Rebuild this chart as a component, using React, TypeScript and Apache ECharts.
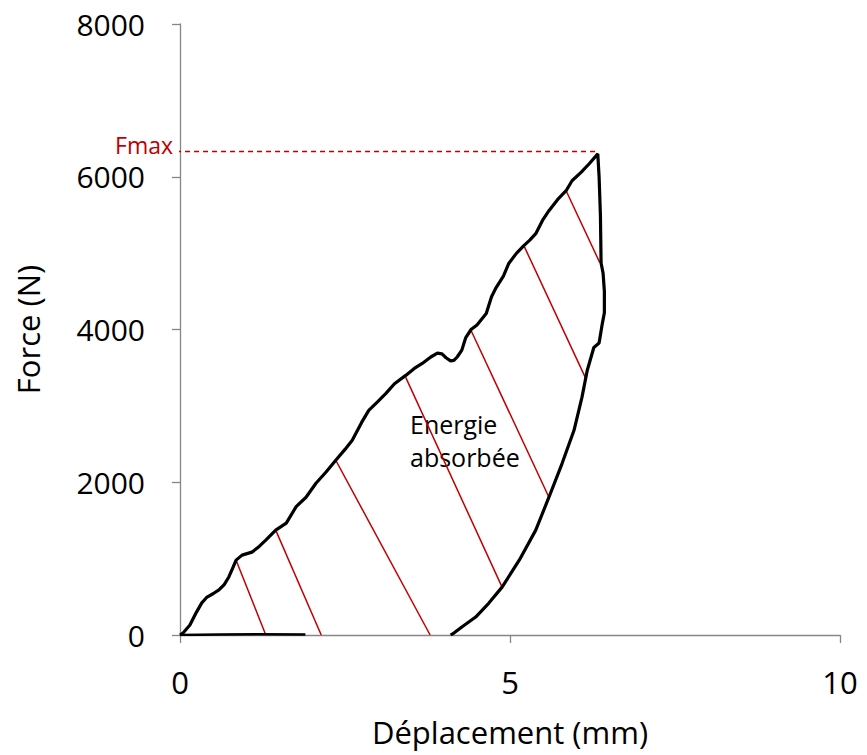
import React, { useEffect, useRef } from "react";
import * as echarts from "echarts";

// Loading branch (displacement mm, force N)
const loadX = [0, 0.05, 0.15, 0.25, 0.33, 0.41, 0.5, 0.59, 0.67, 0.74, 0.8, 0.85, 0.94, 1.09, 1.2, 1.3, 1.45, 1.61, 1.76, 1.91, 2.06, 2.21, 2.36, 2.5, 2.61, 2.75, 2.86, 3.0, 3.12, 3.25, 3.42, 3.55, 3.67, 3.8, 3.9, 3.97, 4.03, 4.1, 4.15, 4.2, 4.27, 4.33, 4.41, 4.5, 4.64, 4.72, 4.79, 4.9, 4.98, 5.1, 5.21, 5.3, 5.39, 5.5, 5.59, 5.72, 5.85, 5.94, 6.08, 6.2, 6.33];
const loadF = [0, 30, 130, 300, 420, 497, 540, 590, 660, 760, 880, 980, 1046, 1085, 1160, 1242, 1373, 1464, 1680, 1804, 1987, 2131, 2288, 2430, 2549, 2780, 2941, 3060, 3163, 3290, 3399, 3490, 3556, 3640, 3690, 3680, 3630, 3590, 3595, 3640, 3730, 3895, 4000, 4060, 4209, 4430, 4549, 4700, 4863, 5000, 5098, 5170, 5255, 5440, 5556, 5700, 5817, 5948, 6060, 6170, 6300];
// Drop after Fmax and unloading branch
const unloadX = [6.35, 6.37, 6.38, 6.41, 6.43, 6.43, 6.4, 6.35, 6.27, 6.17, 6.09, 5.97, 5.79, 5.59, 5.39, 5.14, 4.88, 4.68, 4.48, 4.27, 4.15, 4.1];
const unloadF = [6000, 5500, 4870, 4740, 4500, 4220, 4084, 3822, 3765, 3464, 3111, 2680, 2248, 1804, 1373, 980, 627, 418, 235, 105, 26, 0];
// Curve lying on the baseline
const baseX = [0, 0.6, 1.2, 1.9];
const baseF = [0, 5, 10, 5];
// Red hatching segments (start on loading branch, end on unloading branch/baseline)
const hatchX1 = [0.85, 1.45, 2.36, 3.42, 4.41, 5.21, 5.85];
const hatchF1 = [980, 1373, 2288, 3373, 3987, 5098, 5817];
const hatchX2 = [1.3, 2.14, 3.79, 4.88, 5.59, 6.16, 6.36];
const hatchF2 = [0, 0, 0, 627, 1804, 3338, 4876];
// Fmax reference
const FMAX = 6330;
const FMAX_X_START = -0.06;
const FMAX_X_END = 6.32;

const X_MIN = 0, X_MAX = 10, X_INTERVAL = 5;
const Y_MIN = 0, Y_MAX = 8000, Y_INTERVAL = 2000;

const RED = "#c00000";
const FONT = "'Open Sans', 'Noto Sans', sans-serif";

export default function App() {
  const ref = useRef<HTMLDivElement>(null);
  useEffect(() => {
    if (!ref.current) return;
    const chart = echarts.init(ref.current, null, { renderer: "svg" });
    const curve = [
      ...loadX.map((x, i) => [x, loadF[i]]),
      ...unloadX.map((x, i) => [x, unloadF[i]]),
    ];
    const hatchSeries = hatchX1.map((x, i) => ({
      type: "line",
      data: [[x, hatchF1[i]], [hatchX2[i], hatchF2[i]]],
      showSymbol: false,
      lineStyle: { color: RED, width: 1.5 },
      z: 2,
      silent: true,
    }));
    const option: any = {
      animation: false,
      grid: { left: 180, top: 24, right: 27, bottom: 120 },
      xAxis: {
        type: "value",
        min: X_MIN,
        max: X_MAX,
        interval: X_INTERVAL,
        name: "Déplacement (mm)",
        nameLocation: "middle",
        nameGap: 81,
        nameTextStyle: { fontFamily: FONT, fontSize: 31, color: "#000" },
        axisLine: { show: true, onZero: false, lineStyle: { color: "#868686", width: 1.3 } },
        axisTick: { show: true, inside: false, length: 8, lineStyle: { color: "#868686", width: 1.3 } },
        axisLabel: { fontFamily: FONT, fontSize: 31, color: "#000", margin: 31, formatter: (v: number) => String(v) },
        splitLine: { show: false },
      },
      yAxis: {
        type: "value",
        min: Y_MIN,
        max: Y_MAX,
        interval: Y_INTERVAL,
        name: "Force (N)",
        nameLocation: "middle",
        nameGap: 137,
        nameTextStyle: { fontFamily: FONT, fontSize: 31, color: "#000" },
        axisLine: { show: true, onZero: false, lineStyle: { color: "#868686", width: 1.3 } },
        axisTick: { show: true, inside: false, length: 8, lineStyle: { color: "#868686", width: 1.3 } },
        axisLabel: { fontFamily: FONT, fontSize: 30, lineHeight: 24, color: "#000", margin: 35, formatter: (v: number) => String(v) },
        splitLine: { show: false },
      },
      series: [
        ...hatchSeries,
        {
          type: "line",
          data: [[FMAX_X_START, FMAX], [FMAX_X_END, FMAX]],
          showSymbol: false,
          clip: false,
          lineStyle: { color: RED, width: 1.5, type: [5, 4] },
          z: 2,
        },
        {
          type: "line",
          data: baseX.map((x, i) => [x, baseF[i]]),
          showSymbol: false,
          lineStyle: { color: "#000", width: 2.5 },
          z: 3,
        },
        {
          type: "line",
          data: curve,
          showSymbol: false,
          lineStyle: { color: "#000", width: 3.2 },
          z: 4,
        },
      ],
    };
    chart.setOption(option);
    const fm = chart.convertToPixel({ gridIndex: 0 }, [FMAX_X_START, FMAX]) as number[];
    chart.setOption({
      graphic: [
        {
          type: "text",
          x: fm[0] - 3,
          y: fm[1] - 7,
          style: {
            text: "Fmax",
            fill: RED,
            fontFamily: FONT,
            fontSize: 23,
            lineHeight: 18,
            align: "right",
            verticalAlign: "middle",
          },
        },
        {
          type: "text",
          left: 410,
          top: 407,
          style: {
            text: "Energie\nabsorbée",
            fill: "#000",
            fontFamily: FONT,
            fontSize: 25,
            lineHeight: 33,
            align: "left",
          },
        },
      ],
    });
    return () => chart.dispose();
  }, []);
  return (
    <div
      ref={ref}
      style={{ position: "fixed", left: 0, top: 0, width: 867, height: 755, background: "#fff" }}
    />
  );
}
